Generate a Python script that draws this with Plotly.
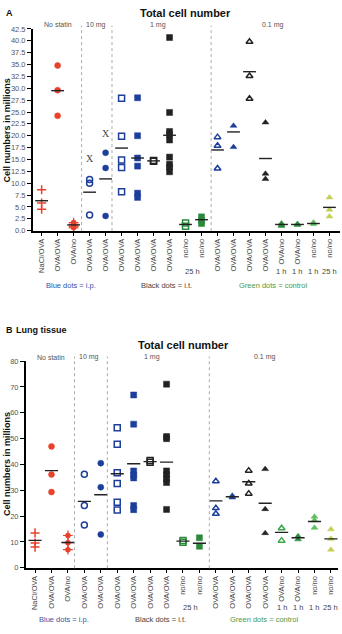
import plotly.graph_objects as go

W, H = 342, 634

categories = ["NaCl/OVA", "OVA/OVA", "OVA/no", "OVA/OVA", "OVA/OVA", "OVA/OVA", "OVA/OVA",
              "OVA/OVA", "OVA/OVA", "no/no", "no/no", "OVA/OVA", "OVA/OVA", "OVA/OVA",
              "OVA/OVA", "OVA/no", "OVA/no", "no/no", "no/no"]
sublabels = {9: "25 h", 15: "1 h", 16: "1 h", 17: "1 h", 18: "25 h"}
groups = ["No statin", "10 mg", "1 mg", "0.1 mg"]

# Panel A: BAL total cell number (millions)
a_vals = [
    [8.6, 5.8, 4.5],
    [34.8, 29.6, 24.2],
    [1.7, 1.3, 0.9, 0.6],
    [10.8, 10.0, 3.3],
    [16.4, 13.2, 3.1],
    [27.9, 19.9, 14.9, 13.3, 8.2],
    [28.0, 20.0, 15.3, 13.6, 7.9, 7.0],
    [14.8, 14.6],
    [40.7, 24.9, 20.9, 20.3, 19.1, 15.5, 14.0, 13.4, 12.4],
    [1.6, 0.9],
    [2.9, 2.1, 1.5],
    [19.7, 17.9, 13.1],
    [22.1, 17.6],
    [39.8, 32.6, 27.8],
    [22.8, 12.0, 10.9],
    [1.5, 1.2, 1.0],
    [1.4, 1.2],
    [1.7, 1.4],
    [7.0, 4.4, 3.0],
]
a_means = [6.3, 29.5, 1.2, 8.1, 10.9, 17.4, 15.3, 14.7, 20.1, 1.3, 2.3, 17.0, 20.8, 33.5, 15.2,
           1.3, 1.3, 1.5, 4.9]
a_yticks = [i * 2.5 for i in range(18)]

# Panel B: lung tissue total cell number (millions)
b_vals = [
    [13.5, 9.6, 8.0],
    [47.0, 36.1, 29.3],
    [12.5, 9.7, 7.0],
    [36.2, 24.1, 16.6],
    [40.5, 31.2, 12.9],
    [54.2, 47.8, 36.8, 32.6, 25.4, 22.4],
    [66.9, 55.6, 37.5, 35.9, 34.8, 24.1, 22.5],
    [41.5, 40.9],
    [71.1, 50.8, 50.0, 37.5, 36.0, 34.5, 33.0, 22.6],
    [10.6, 9.9],
    [11.6, 8.3],
    [33.5, 23.1, 20.9],
    [27.9, 27.2],
    [37.6, 32.6, 28.7],
    [38.2, 22.7, 13.4],
    [15.3, 10.5],
    [12.2, 11.0],
    [19.8, 18.4, 15.5],
    [14.9, 11.2, 7.0],
]
b_means = [10.6, 37.6, 9.8, 25.7, 28.3, 36.4, 40.3, 41.1, 40.9, 10.3, 9.5, 25.9, 27.5, 33.3, 25.0,
           13.7, 11.6, 17.9, 11.2]
b_yticks = list(range(0, 81, 10))

RED = "#e8412c"
BLUE = "#1d3f9b"
BLK = "#222222"
DG = "#2a8a3a"
MG = "#3aa84a"
LG = "#5cbf5c"
YG = "#c4cf52"

styles = [
    ("cross-thin-open", RED), ("circle", RED), ("circle+cross", RED),
    ("circle-open", BLUE), ("circle", BLUE),
    ("square-open", BLUE), ("square", BLUE), ("square-open", BLK), ("square", BLK),
    ("square-open", DG), ("square", DG),
    ("triangle-up-open", BLUE), ("triangle-up", BLUE), ("triangle-up-open", BLK), ("triangle-up", BLK),
    ("triangle-up", DG), ("triangle-up", DG), ("triangle-up", LG), ("triangle-up", YG),
]
b_style_override = {15: ("triangle-up-open", MG)}

fig = go.Figure()


def add_panel(vals, means, xa, ya, override):
    for i, col in enumerate(vals):
        sym, color = override.get(i, styles[i])
        xs = [i] * len(col)
        if sym == "circle+cross":
            fig.add_trace(go.Scatter(x=xs, y=col, mode="markers", xaxis=xa, yaxis=ya,
                                     marker=dict(symbol="circle", size=5.5, color=color, line=dict(width=0)),
                                     showlegend=False, hoverinfo="skip"))
            fig.add_trace(go.Scatter(x=xs, y=col, mode="markers", xaxis=xa, yaxis=ya,
                                     marker=dict(symbol="cross-thin-open", size=7, color=color,
                                                 line=dict(width=1.2, color=color)),
                                     showlegend=False, hoverinfo="skip"))
            continue
        if "open" in sym:
            size = 6.5 if sym == "cross-thin-open" else 6
            mk = dict(symbol=sym, size=size, color=color, line=dict(width=1.5, color=color))
        else:
            mk = dict(symbol=sym, size=6, color=color, line=dict(width=0.5, color=color))
        fig.add_trace(go.Scatter(x=xs, y=col, mode="markers", xaxis=xa, yaxis=ya, marker=mk,
                                 showlegend=False, hoverinfo="skip"))
    lx, ly = [], []
    for i, m in enumerate(means):
        lx += [i - 0.4, i + 0.4, None]
        ly += [m, m, None]
    fig.add_trace(go.Scatter(x=lx, y=ly, mode="lines", xaxis=xa, yaxis=ya,
                             line=dict(color="#222", width=1.4), showlegend=False, hoverinfo="skip"))


add_panel(a_vals, a_means, "x", "y", {})
add_panel(b_vals, b_means, "x2", "y2", b_style_override)

FONT = "Liberation Sans, Arial, sans-serif"


def px(x):
    return x / W


def py(y):
    return 1 - y / H


xcommon = dict(tickvals=list(range(19)), ticktext=categories, tickangle=-90,
               showline=True, linecolor="black", linewidth=1.5, ticks="outside", ticklen=3,
               tickcolor="black", tickwidth=1, tickfont=dict(size=7.5, color="#444", family=FONT),
               showgrid=False, zeroline=False)
ycommon = dict(showline=True, linecolor="black", linewidth=2, ticks="outside", ticklen=4,
               tickcolor="black", tickwidth=1.2, tickfont=dict(size=7.5, color="#555", family=FONT),
               showgrid=False, zeroline=False)

fig.update_layout(
    width=W, height=H, margin=dict(l=0, r=0, t=0, b=0),
    paper_bgcolor="white", plot_bgcolor="white",
    font=dict(family=FONT),
    xaxis=dict(domain=[px(33), px(340)], range=[-0.54, 18.66], anchor="y", **xcommon),
    yaxis=dict(domain=[py(230), py(25.3)], range=[-0.1, 42.5], anchor="x",
               tickvals=a_yticks, ticktext=["%.1f" % v for v in a_yticks], **ycommon),
    xaxis2=dict(domain=[px(26), px(338)], range=[-0.55, 18.43], anchor="y2", **xcommon),
    yaxis2=dict(domain=[py(571.5), py(361.7)], range=[-0.2, 80], anchor="x2",
                tickvals=b_yticks, ticktext=[str(v) for v in b_yticks], **ycommon),
)

shapes = []
for xr, pos, ytop in (("x", [2.5, 4.4, 10.6], py(22)), ("x2", [2.4, 4.4, 10.6], py(357))):
    ybot = py(230) if xr == "x" else py(571.5)
    for p in pos:
        shapes.append(dict(type="line", xref=xr, yref="paper", x0=p, x1=p, y0=ybot, y1=ytop,
                           line=dict(color="#aaa", width=1, dash="dot")))
fig.update_layout(shapes=shapes)

ann = []


def text(x, y, s, size=7.5, color="#444", bold=False, xanchor="center", xref="paper", angle=0,
         family=FONT):
    ann.append(dict(x=x, y=y, xref=xref, yref="paper", text=("<b>%s</b>" % s) if bold else s,
                    showarrow=False, font=dict(size=size, color=color, family=family),
                    xanchor=xanchor, yanchor="middle", textangle=angle))


# Panel A texts
text(px(4), py(9), "A", size=9, color="#111", bold=True, xanchor="left")
text(px(185), py(9), "Total cell number", size=11, color="#111", bold=True)
text(px(7), py(128), "Cell numbers in millions", size=9, color="#111", bold=True, angle=-90)
for g, xp in zip(groups, [58, 96, 158, 273]):
    text(px(xp), py(21), g, size=7, color="#555")
# Panel B texts
text(px(4), py(330), "B", size=9, color="#111", bold=True, xanchor="left")
text(px(14), py(330), "Lung tissue", size=9, color="#111", bold=True, xanchor="left")
text(px(183), py(345), "Total cell number", size=11, color="#111", bold=True)
text(px(7), py(466), "Cell numbers in millions", size=9, color="#111", bold=True, angle=-90)
for g, xp in zip(groups, [51, 89, 152, 265]):
    text(px(xp), py(358), g, size=7, color="#555")

# sublabels
for xr, ysub in (("x", 271), ("x2", 611)):
    for i, s in sublabels.items():
        xx = 9.45 if i == 9 else i
        text(xx, py(ysub), s, size=7.5, color="#444", xref=xr)

# footers
for ypos, xs in ((285, [71, 166, 273]), (623, [64, 160, 264])):
    text(px(xs[0]), py(ypos), "Blue dots = i.p.", size=7.5, color="#3553a8")
    text(px(xs[1]), py(ypos), "Black dots = i.t.", size=7.5, color="#444")
    text(px(xs[2]), py(ypos), "Green dots = control", size=7.5, color="#4a9a4a")

# X marks in panel A
text(3, py(156.7), "X", size=10, color="#444", xref="x", family="Liberation Serif, serif")
text(4, py(131), "X", size=10, color="#444", xref="x", family="Liberation Serif, serif")

fig.update_layout(annotations=ann)

fig.write_html("out.html")
